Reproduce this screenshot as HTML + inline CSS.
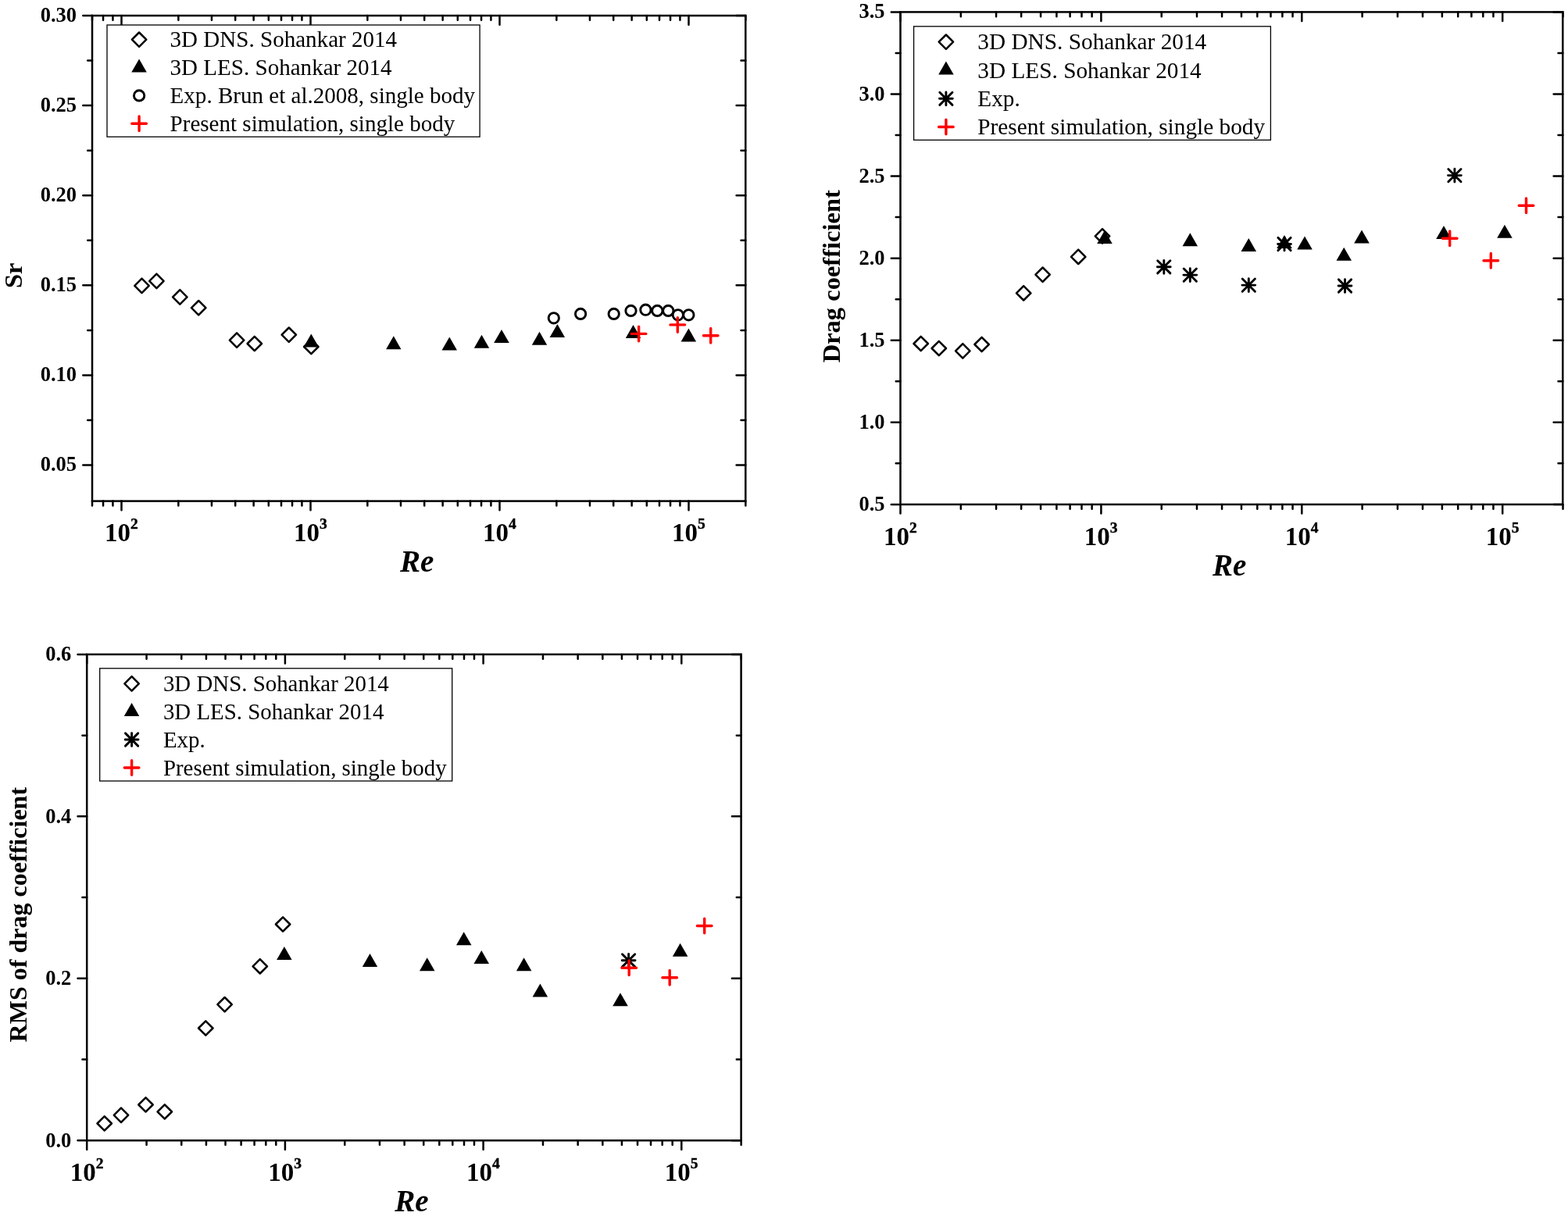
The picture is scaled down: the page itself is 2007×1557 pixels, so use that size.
<!DOCTYPE html>
<html><head><meta charset="utf-8"><title>Figure</title>
<style>html,body{margin:0;padding:0;background:#fff;overflow:hidden;}svg{display:block;}</style>
</head><body>
<svg width="2007" height="1557" viewBox="0 0 2007 1557">
<style>
text{font-family:'Liberation Serif', 'Times New Roman', serif;fill:#000}
.yl{font-size:26.5px;font-weight:bold}
.xl{font-size:33px;font-weight:bold}
.sup{font-size:19.5px;font-weight:bold;stroke:#000;stroke-width:0.45px}
.ti{font-size:32.5px;font-weight:bold}
.re{font-size:39px;font-weight:bold;font-style:italic}
.lg{font-size:29.3px}
</style>
<rect width="2007" height="1557" fill="#fff"/>
<rect x="118.0" y="20.0" width="836.30" height="621.60" fill="none" stroke="#000" stroke-width="2.5"/>
<path d="M118.01 641.60v5.8M118.01 20.00v5.8M132.05 641.60v5.8M132.05 20.00v5.8M144.43 641.60v5.8M144.43 20.00v5.8M155.50 641.60v11.7M155.50 20.00v11.7M228.35 641.60v5.8M228.35 20.00v5.8M270.96 641.60v5.8M270.96 20.00v5.8M301.20 641.60v5.8M301.20 20.00v5.8M324.65 641.60v5.8M324.65 20.00v5.8M343.81 641.60v5.8M343.81 20.00v5.8M360.01 641.60v5.8M360.01 20.00v5.8M374.05 641.60v5.8M374.05 20.00v5.8M386.43 641.60v5.8M386.43 20.00v5.8M397.50 641.60v11.7M397.50 20.00v11.7M470.35 641.60v5.8M470.35 20.00v5.8M512.96 641.60v5.8M512.96 20.00v5.8M543.20 641.60v5.8M543.20 20.00v5.8M566.65 641.60v5.8M566.65 20.00v5.8M585.81 641.60v5.8M585.81 20.00v5.8M602.01 641.60v5.8M602.01 20.00v5.8M616.05 641.60v5.8M616.05 20.00v5.8M628.43 641.60v5.8M628.43 20.00v5.8M639.50 641.60v11.7M639.50 20.00v11.7M712.35 641.60v5.8M712.35 20.00v5.8M754.96 641.60v5.8M754.96 20.00v5.8M785.20 641.60v5.8M785.20 20.00v5.8M808.65 641.60v5.8M808.65 20.00v5.8M827.81 641.60v5.8M827.81 20.00v5.8M844.01 641.60v5.8M844.01 20.00v5.8M858.05 641.60v5.8M858.05 20.00v5.8M870.43 641.60v5.8M870.43 20.00v5.8M881.50 641.60v11.7M881.50 20.00v11.7M954.35 641.60v5.8M954.35 20.00v5.8M118.00 595.56h-11.7M954.30 595.56h-11.7M118.00 538.00h-5.8M954.30 538.00h-5.8M118.00 480.44h-11.7M954.30 480.44h-11.7M118.00 422.89h-5.8M954.30 422.89h-5.8M118.00 365.33h-11.7M954.30 365.33h-11.7M118.00 307.78h-5.8M954.30 307.78h-5.8M118.00 250.22h-11.7M954.30 250.22h-11.7M118.00 192.67h-5.8M954.30 192.67h-5.8M118.00 135.11h-11.7M954.30 135.11h-11.7M118.00 77.56h-5.8M954.30 77.56h-5.8M118.00 20.00h-11.7M954.30 20.00h-11.7" stroke="#000" stroke-width="2.5" stroke-linecap="round" fill="none"/>
<text x="98.1" y="603.3" text-anchor="end" class="yl">0.05</text>
<text x="98.1" y="488.1" text-anchor="end" class="yl">0.10</text>
<text x="98.1" y="373.0" text-anchor="end" class="yl">0.15</text>
<text x="98.1" y="257.9" text-anchor="end" class="yl">0.20</text>
<text x="98.1" y="142.8" text-anchor="end" class="yl">0.25</text>
<text x="98.1" y="27.7" text-anchor="end" class="yl">0.30</text>
<text x="155.3" y="693.4" text-anchor="middle" class="xl">10<tspan class="sup" dy="-16">2</tspan></text>
<text x="397.3" y="693.4" text-anchor="middle" class="xl">10<tspan class="sup" dy="-16">3</tspan></text>
<text x="639.3" y="693.4" text-anchor="middle" class="xl">10<tspan class="sup" dy="-16">4</tspan></text>
<text x="881.3" y="693.4" text-anchor="middle" class="xl">10<tspan class="sup" dy="-16">5</tspan></text>
<rect x="137.0" y="32.0" width="477.1" height="143.2" fill="#fff" stroke="#000" stroke-width="1.3"/>
<path d="M178.1 41.5L187.3 50.7L178.1 59.9L168.9 50.7Z" fill="#fff" stroke="#000" stroke-width="2.5" stroke-linejoin="round"/>
<path d="M178.1 75.6L187.8 92.6L168.3 92.6Z" fill="#000"/>
<circle cx="178.1" cy="122.4" r="6.65" fill="none" stroke="#000" stroke-width="2.9"/>
<path d="M168.8 158.3H187.4M178.1 149.0V167.6" stroke="#ff0000" stroke-width="3.4" stroke-linecap="round" fill="none"/>
<text x="217.6" y="60.4" class="lg" style="font-size:29.05px">3D DNS. Sohankar 2014</text>
<text x="217.6" y="96.0" class="lg" style="font-size:29.05px">3D LES. Sohankar 2014</text>
<text x="217.6" y="132.1" class="lg" style="font-size:29.05px">Exp. Brun et al.2008, single body</text>
<text x="217.6" y="167.8" class="lg" style="font-size:29.05px">Present simulation, single body</text>
<path d="M181.5 356.7L190.7 365.9L181.5 375.1L172.3 365.9Z" fill="#fff" stroke="#000" stroke-width="2.5" stroke-linejoin="round"/>
<path d="M200.4 350.7L209.6 359.9L200.4 369.1L191.2 359.9Z" fill="#fff" stroke="#000" stroke-width="2.5" stroke-linejoin="round"/>
<path d="M230.3 371.2L239.5 380.4L230.3 389.6L221.1 380.4Z" fill="#fff" stroke="#000" stroke-width="2.5" stroke-linejoin="round"/>
<path d="M254.2 385.0L263.4 394.2L254.2 403.4L245.0 394.2Z" fill="#fff" stroke="#000" stroke-width="2.5" stroke-linejoin="round"/>
<path d="M303.1 426.4L312.3 435.6L303.1 444.8L293.9 435.6Z" fill="#fff" stroke="#000" stroke-width="2.5" stroke-linejoin="round"/>
<path d="M325.8 430.8L335.0 440.0L325.8 449.2L316.6 440.0Z" fill="#fff" stroke="#000" stroke-width="2.5" stroke-linejoin="round"/>
<path d="M369.8 419.5L379.0 428.7L369.8 437.9L360.6 428.7Z" fill="#fff" stroke="#000" stroke-width="2.5" stroke-linejoin="round"/>
<path d="M398.3 434.8L407.5 444.0L398.3 453.2L389.1 444.0Z" fill="#fff" stroke="#000" stroke-width="2.5" stroke-linejoin="round"/>
<path d="M398.3 427.4L408.1 444.4L388.6 444.4Z" fill="#000"/>
<path d="M503.8 430.3L513.5 447.3L494.1 447.3Z" fill="#000"/>
<path d="M575.3 431.5L585.0 448.5L565.5 448.5Z" fill="#000"/>
<path d="M616.5 428.8L626.2 445.8L606.8 445.8Z" fill="#000"/>
<path d="M642.0 421.9L651.8 438.9L632.2 438.9Z" fill="#000"/>
<path d="M690.5 424.8L700.2 441.8L680.8 441.8Z" fill="#000"/>
<path d="M713.4 415.0L723.1 432.0L703.6 432.0Z" fill="#000"/>
<path d="M810.5 416.1L820.2 433.1L800.8 433.1Z" fill="#000"/>
<path d="M881.4 420.6L891.1 437.6L871.6 437.6Z" fill="#000"/>
<circle cx="708.8" cy="407.3" r="6.65" fill="none" stroke="#000" stroke-width="2.9"/>
<circle cx="743.1" cy="401.9" r="6.65" fill="none" stroke="#000" stroke-width="2.9"/>
<circle cx="785.7" cy="401.9" r="6.65" fill="none" stroke="#000" stroke-width="2.9"/>
<circle cx="807.5" cy="397.9" r="6.65" fill="none" stroke="#000" stroke-width="2.9"/>
<circle cx="826.4" cy="396.7" r="6.65" fill="none" stroke="#000" stroke-width="2.9"/>
<circle cx="841.3" cy="397.9" r="6.65" fill="none" stroke="#000" stroke-width="2.9"/>
<circle cx="855.3" cy="397.9" r="6.65" fill="none" stroke="#000" stroke-width="2.9"/>
<circle cx="867.8" cy="403.3" r="6.65" fill="none" stroke="#000" stroke-width="2.9"/>
<circle cx="881.4" cy="403.3" r="6.65" fill="none" stroke="#000" stroke-width="2.9"/>
<path d="M808.3 427.4H826.9M817.6 418.1V436.7" stroke="#ff0000" stroke-width="3.4" stroke-linecap="round" fill="none"/>
<path d="M858.0 415.9H876.6M867.3 406.6V425.2" stroke="#ff0000" stroke-width="3.4" stroke-linecap="round" fill="none"/>
<path d="M900.4 429.8H919.0M909.7 420.5V439.1" stroke="#ff0000" stroke-width="3.4" stroke-linecap="round" fill="none"/>
<text transform="translate(28,369.1) rotate(-90)" class="ti">Sr</text>
<text x="512" y="731.7" class="re">Re</text>
<rect x="1152.5" y="15.4" width="847.80" height="630.50" fill="none" stroke="#000" stroke-width="2.5"/>
<path d="M1152.50 645.90v11.7M1152.50 15.40v11.7M1229.83 645.90v5.8M1229.83 15.40v5.8M1275.07 645.90v5.8M1275.07 15.40v5.8M1307.17 645.90v5.8M1307.17 15.40v5.8M1332.07 645.90v5.8M1332.07 15.40v5.8M1352.41 645.90v5.8M1352.41 15.40v5.8M1369.61 645.90v5.8M1369.61 15.40v5.8M1384.50 645.90v5.8M1384.50 15.40v5.8M1397.64 645.90v5.8M1397.64 15.40v5.8M1409.40 645.90v11.7M1409.40 15.40v11.7M1486.73 645.90v5.8M1486.73 15.40v5.8M1531.97 645.90v5.8M1531.97 15.40v5.8M1564.07 645.90v5.8M1564.07 15.40v5.8M1588.97 645.90v5.8M1588.97 15.40v5.8M1609.31 645.90v5.8M1609.31 15.40v5.8M1626.51 645.90v5.8M1626.51 15.40v5.8M1641.40 645.90v5.8M1641.40 15.40v5.8M1654.54 645.90v5.8M1654.54 15.40v5.8M1666.30 645.90v11.7M1666.30 15.40v11.7M1743.63 645.90v5.8M1743.63 15.40v5.8M1788.87 645.90v5.8M1788.87 15.40v5.8M1820.97 645.90v5.8M1820.97 15.40v5.8M1845.87 645.90v5.8M1845.87 15.40v5.8M1866.21 645.90v5.8M1866.21 15.40v5.8M1883.41 645.90v5.8M1883.41 15.40v5.8M1898.30 645.90v5.8M1898.30 15.40v5.8M1911.44 645.90v5.8M1911.44 15.40v5.8M1923.20 645.90v11.7M1923.20 15.40v11.7M2000.53 645.90v5.8M2000.53 15.40v5.8M1152.50 645.90h-11.7M2000.30 645.90h-11.7M1152.50 593.36h-5.8M2000.30 593.36h-5.8M1152.50 540.82h-11.7M2000.30 540.82h-11.7M1152.50 488.27h-5.8M2000.30 488.27h-5.8M1152.50 435.73h-11.7M2000.30 435.73h-11.7M1152.50 383.19h-5.8M2000.30 383.19h-5.8M1152.50 330.65h-11.7M2000.30 330.65h-11.7M1152.50 278.11h-5.8M2000.30 278.11h-5.8M1152.50 225.57h-11.7M2000.30 225.57h-11.7M1152.50 173.02h-5.8M2000.30 173.02h-5.8M1152.50 120.48h-11.7M2000.30 120.48h-11.7M1152.50 67.94h-5.8M2000.30 67.94h-5.8M1152.50 15.40h-11.7M2000.30 15.40h-11.7" stroke="#000" stroke-width="2.5" stroke-linecap="round" fill="none"/>
<text x="1132.6" y="653.9" text-anchor="end" class="yl">0.5</text>
<text x="1132.6" y="548.8" text-anchor="end" class="yl">1.0</text>
<text x="1132.6" y="443.7" text-anchor="end" class="yl">1.5</text>
<text x="1132.6" y="338.6" text-anchor="end" class="yl">2.0</text>
<text x="1132.6" y="233.6" text-anchor="end" class="yl">2.5</text>
<text x="1132.6" y="128.5" text-anchor="end" class="yl">3.0</text>
<text x="1132.6" y="23.4" text-anchor="end" class="yl">3.5</text>
<text x="1152.3" y="697.7" text-anchor="middle" class="xl">10<tspan class="sup" dy="-16">2</tspan></text>
<text x="1409.2" y="697.7" text-anchor="middle" class="xl">10<tspan class="sup" dy="-16">3</tspan></text>
<text x="1666.1" y="697.7" text-anchor="middle" class="xl">10<tspan class="sup" dy="-16">4</tspan></text>
<text x="1923.0" y="697.7" text-anchor="middle" class="xl">10<tspan class="sup" dy="-16">5</tspan></text>
<rect x="1169.6" y="33.8" width="456.8" height="145.5" fill="#fff" stroke="#000" stroke-width="1.3"/>
<path d="M1210.9 44.5L1220.1 53.7L1210.9 62.9L1201.7 53.7Z" fill="#fff" stroke="#000" stroke-width="2.5" stroke-linejoin="round"/>
<path d="M1210.9 78.6L1220.7 95.6L1201.2 95.6Z" fill="#000"/>
<path d="M1202.5 126.3H1219.3M1210.9 117.9V134.7M1202.8 118.2L1219.0 134.4M1202.8 134.4L1219.0 118.2" stroke="#000" stroke-width="2.9" stroke-linecap="round" fill="none"/>
<path d="M1201.6 162.5H1220.2M1210.9 153.2V171.8" stroke="#ff0000" stroke-width="3.4" stroke-linecap="round" fill="none"/>
<text x="1251.3" y="62.8" class="lg" style="font-size:29.3px">3D DNS. Sohankar 2014</text>
<text x="1251.3" y="99.6" class="lg" style="font-size:29.3px">3D LES. Sohankar 2014</text>
<text x="1251.3" y="135.5" class="lg" style="font-size:29.3px">Exp.</text>
<text x="1251.3" y="172.3" class="lg" style="font-size:29.3px">Present simulation, single body</text>
<path d="M1178.7 430.8L1187.9 440.0L1178.7 449.2L1169.5 440.0Z" fill="#fff" stroke="#000" stroke-width="2.5" stroke-linejoin="round"/>
<path d="M1201.8 436.8L1211.0 446.0L1201.8 455.2L1192.6 446.0Z" fill="#fff" stroke="#000" stroke-width="2.5" stroke-linejoin="round"/>
<path d="M1232.3 440.2L1241.5 449.4L1232.3 458.6L1223.1 449.4Z" fill="#fff" stroke="#000" stroke-width="2.5" stroke-linejoin="round"/>
<path d="M1256.6 431.8L1265.8 441.0L1256.6 450.2L1247.4 441.0Z" fill="#fff" stroke="#000" stroke-width="2.5" stroke-linejoin="round"/>
<path d="M1310.2 366.1L1319.4 375.3L1310.2 384.5L1301.0 375.3Z" fill="#fff" stroke="#000" stroke-width="2.5" stroke-linejoin="round"/>
<path d="M1334.6 342.5L1343.8 351.7L1334.6 360.9L1325.4 351.7Z" fill="#fff" stroke="#000" stroke-width="2.5" stroke-linejoin="round"/>
<path d="M1380.2 319.6L1389.4 328.8L1380.2 338.0L1371.0 328.8Z" fill="#fff" stroke="#000" stroke-width="2.5" stroke-linejoin="round"/>
<path d="M1411.0 293.2L1420.2 302.4L1411.0 311.6L1401.8 302.4Z" fill="#fff" stroke="#000" stroke-width="2.5" stroke-linejoin="round"/>
<path d="M1413.9 295.1L1423.7 312.1L1404.2 312.1Z" fill="#000"/>
<path d="M1523.3 298.3L1533.0 315.3L1513.5 315.3Z" fill="#000"/>
<path d="M1598.3 304.9L1608.0 321.9L1588.5 321.9Z" fill="#000"/>
<path d="M1644.0 301.1L1653.8 318.1L1634.2 318.1Z" fill="#000"/>
<path d="M1670.0 302.5L1679.8 319.5L1660.2 319.5Z" fill="#000"/>
<path d="M1720.2 316.8L1730.0 333.8L1710.5 333.8Z" fill="#000"/>
<path d="M1743.0 294.6L1752.8 311.6L1733.2 311.6Z" fill="#000"/>
<path d="M1848.0 288.9L1857.8 305.9L1838.2 305.9Z" fill="#000"/>
<path d="M1925.9 287.8L1935.7 304.8L1916.2 304.8Z" fill="#000"/>
<path d="M1481.4 341.8H1498.2M1489.8 333.4V350.2M1481.7 333.7L1497.9 349.9M1481.7 349.9L1497.9 333.7" stroke="#000" stroke-width="2.9" stroke-linecap="round" fill="none"/>
<path d="M1514.9 352.1H1531.7M1523.3 343.7V360.5M1515.2 344.0L1531.4 360.2M1515.2 360.2L1531.4 344.0" stroke="#000" stroke-width="2.9" stroke-linecap="round" fill="none"/>
<path d="M1589.9 365.1H1606.7M1598.3 356.7V373.5M1590.2 357.0L1606.4 373.2M1590.2 373.2L1606.4 357.0" stroke="#000" stroke-width="2.9" stroke-linecap="round" fill="none"/>
<path d="M1635.6 312.5H1652.4M1644.0 304.1V320.9M1635.9 304.4L1652.1 320.6M1635.9 320.6L1652.1 304.4" stroke="#000" stroke-width="2.9" stroke-linecap="round" fill="none"/>
<path d="M1713.1 366.0H1729.9M1721.5 357.6V374.4M1713.4 357.9L1729.6 374.1M1713.4 374.1L1729.6 357.9" stroke="#000" stroke-width="2.9" stroke-linecap="round" fill="none"/>
<path d="M1853.5 224.6H1870.3M1861.9 216.2V233.0M1853.8 216.5L1870.0 232.7M1853.8 232.7L1870.0 216.5" stroke="#000" stroke-width="2.9" stroke-linecap="round" fill="none"/>
<path d="M1846.4 305.2H1865.0M1855.7 295.9V314.5" stroke="#ff0000" stroke-width="3.4" stroke-linecap="round" fill="none"/>
<path d="M1899.0 333.7H1917.6M1908.3 324.4V343.0" stroke="#ff0000" stroke-width="3.4" stroke-linecap="round" fill="none"/>
<path d="M1944.2 263.3H1962.8M1953.5 254.0V272.6" stroke="#ff0000" stroke-width="3.4" stroke-linecap="round" fill="none"/>
<text transform="translate(1074.7,464.3) rotate(-90)" class="ti">Drag coefficient</text>
<text x="1552" y="737.2" class="re">Re</text>
<rect x="111.2" y="837.9" width="837.40" height="622.40" fill="none" stroke="#000" stroke-width="2.5"/>
<path d="M111.20 1460.30v11.7M111.20 837.90v11.7M187.57 1460.30v5.8M187.57 837.90v5.8M232.25 1460.30v5.8M232.25 837.90v5.8M263.94 1460.30v5.8M263.94 837.90v5.8M288.53 1460.30v5.8M288.53 837.90v5.8M308.62 1460.30v5.8M308.62 837.90v5.8M325.60 1460.30v5.8M325.60 837.90v5.8M340.31 1460.30v5.8M340.31 837.90v5.8M353.29 1460.30v5.8M353.29 837.90v5.8M364.90 1460.30v11.7M364.90 837.90v11.7M441.27 1460.30v5.8M441.27 837.90v5.8M485.95 1460.30v5.8M485.95 837.90v5.8M517.64 1460.30v5.8M517.64 837.90v5.8M542.23 1460.30v5.8M542.23 837.90v5.8M562.32 1460.30v5.8M562.32 837.90v5.8M579.30 1460.30v5.8M579.30 837.90v5.8M594.01 1460.30v5.8M594.01 837.90v5.8M606.99 1460.30v5.8M606.99 837.90v5.8M618.60 1460.30v11.7M618.60 837.90v11.7M694.97 1460.30v5.8M694.97 837.90v5.8M739.65 1460.30v5.8M739.65 837.90v5.8M771.34 1460.30v5.8M771.34 837.90v5.8M795.93 1460.30v5.8M795.93 837.90v5.8M816.02 1460.30v5.8M816.02 837.90v5.8M833.00 1460.30v5.8M833.00 837.90v5.8M847.71 1460.30v5.8M847.71 837.90v5.8M860.69 1460.30v5.8M860.69 837.90v5.8M872.30 1460.30v11.7M872.30 837.90v11.7M948.67 1460.30v5.8M948.67 837.90v5.8M111.20 1460.30h-11.7M948.60 1460.30h-11.7M111.20 1356.57h-5.8M948.60 1356.57h-5.8M111.20 1252.83h-11.7M948.60 1252.83h-11.7M111.20 1149.10h-5.8M948.60 1149.10h-5.8M111.20 1045.37h-11.7M948.60 1045.37h-11.7M111.20 941.63h-5.8M948.60 941.63h-5.8M111.20 837.90h-11.7M948.60 837.90h-11.7" stroke="#000" stroke-width="2.5" stroke-linecap="round" fill="none"/>
<text x="91.3" y="1468.8" text-anchor="end" class="yl">0.0</text>
<text x="91.3" y="1261.3" text-anchor="end" class="yl">0.2</text>
<text x="91.3" y="1053.9" text-anchor="end" class="yl">0.4</text>
<text x="91.3" y="846.4" text-anchor="end" class="yl">0.6</text>
<text x="111.0" y="1512.1" text-anchor="middle" class="xl">10<tspan class="sup" dy="-16">2</tspan></text>
<text x="364.7" y="1512.1" text-anchor="middle" class="xl">10<tspan class="sup" dy="-16">3</tspan></text>
<text x="618.4" y="1512.1" text-anchor="middle" class="xl">10<tspan class="sup" dy="-16">4</tspan></text>
<text x="872.1" y="1512.1" text-anchor="middle" class="xl">10<tspan class="sup" dy="-16">5</tspan></text>
<rect x="127.7" y="855.8" width="451.0" height="144.2" fill="#fff" stroke="#000" stroke-width="1.3"/>
<path d="M168.6 866.2L177.8 875.4L168.6 884.6L159.4 875.4Z" fill="#fff" stroke="#000" stroke-width="2.5" stroke-linejoin="round"/>
<path d="M168.6 900.0L178.3 917.0L158.8 917.0Z" fill="#000"/>
<path d="M160.2 947.0H177.0M168.6 938.6V955.4M160.5 938.9L176.7 955.1M160.5 955.1L176.7 938.9" stroke="#000" stroke-width="2.9" stroke-linecap="round" fill="none"/>
<path d="M159.3 983.0H177.9M168.6 973.7V992.3" stroke="#ff0000" stroke-width="3.4" stroke-linecap="round" fill="none"/>
<text x="208.9" y="884.5" class="lg" style="font-size:28.9px">3D DNS. Sohankar 2014</text>
<text x="208.9" y="920.5" class="lg" style="font-size:28.9px">3D LES. Sohankar 2014</text>
<text x="208.9" y="956.6" class="lg" style="font-size:28.9px">Exp.</text>
<text x="208.9" y="992.6" class="lg" style="font-size:28.9px">Present simulation, single body</text>
<path d="M133.7 1429.3L142.9 1438.5L133.7 1447.7L124.5 1438.5Z" fill="#fff" stroke="#000" stroke-width="2.5" stroke-linejoin="round"/>
<path d="M155.0 1418.7L164.2 1427.9L155.0 1437.1L145.8 1427.9Z" fill="#fff" stroke="#000" stroke-width="2.5" stroke-linejoin="round"/>
<path d="M186.5 1405.3L195.7 1414.5L186.5 1423.7L177.3 1414.5Z" fill="#fff" stroke="#000" stroke-width="2.5" stroke-linejoin="round"/>
<path d="M210.8 1414.3L220.0 1423.5L210.8 1432.7L201.6 1423.5Z" fill="#fff" stroke="#000" stroke-width="2.5" stroke-linejoin="round"/>
<path d="M263.3 1307.3L272.5 1316.5L263.3 1325.7L254.1 1316.5Z" fill="#fff" stroke="#000" stroke-width="2.5" stroke-linejoin="round"/>
<path d="M287.6 1277.0L296.8 1286.2L287.6 1295.4L278.4 1286.2Z" fill="#fff" stroke="#000" stroke-width="2.5" stroke-linejoin="round"/>
<path d="M332.8 1228.1L342.0 1237.3L332.8 1246.5L323.6 1237.3Z" fill="#fff" stroke="#000" stroke-width="2.5" stroke-linejoin="round"/>
<path d="M362.1 1174.3L371.3 1183.5L362.1 1192.7L352.9 1183.5Z" fill="#fff" stroke="#000" stroke-width="2.5" stroke-linejoin="round"/>
<path d="M363.9 1211.9L373.6 1228.9L354.1 1228.9Z" fill="#000"/>
<path d="M473.5 1221.0L483.2 1238.0L463.8 1238.0Z" fill="#000"/>
<path d="M546.7 1226.2L556.5 1243.2L537.0 1243.2Z" fill="#000"/>
<path d="M593.7 1193.2L603.5 1210.2L584.0 1210.2Z" fill="#000"/>
<path d="M616.3 1217.0L626.0 1234.0L606.5 1234.0Z" fill="#000"/>
<path d="M670.6 1226.2L680.4 1243.2L660.9 1243.2Z" fill="#000"/>
<path d="M691.4 1259.5L701.1 1276.5L681.6 1276.5Z" fill="#000"/>
<path d="M794.0 1271.2L803.8 1288.2L784.2 1288.2Z" fill="#000"/>
<path d="M870.6 1207.8L880.4 1224.8L860.9 1224.8Z" fill="#000"/>
<path d="M796.2 1229.8H813.0M804.6 1221.4V1238.2M796.5 1221.7L812.7 1237.9M796.5 1237.9L812.7 1221.7" stroke="#000" stroke-width="2.9" stroke-linecap="round" fill="none"/>
<path d="M795.9 1239.2H814.5M805.2 1229.9V1248.5" stroke="#ff0000" stroke-width="3.4" stroke-linecap="round" fill="none"/>
<path d="M847.9 1251.7H866.5M857.2 1242.4V1261.0" stroke="#ff0000" stroke-width="3.4" stroke-linecap="round" fill="none"/>
<path d="M892.4 1185.5H911.0M901.7 1176.2V1194.8" stroke="#ff0000" stroke-width="3.4" stroke-linecap="round" fill="none"/>
<text transform="translate(34.3,1334.5) rotate(-90)" class="ti" style="font-size:32.05px">RMS of drag coefficient</text>
<text x="505.2" y="1550.6" class="re">Re</text>
</svg>
</body></html>
